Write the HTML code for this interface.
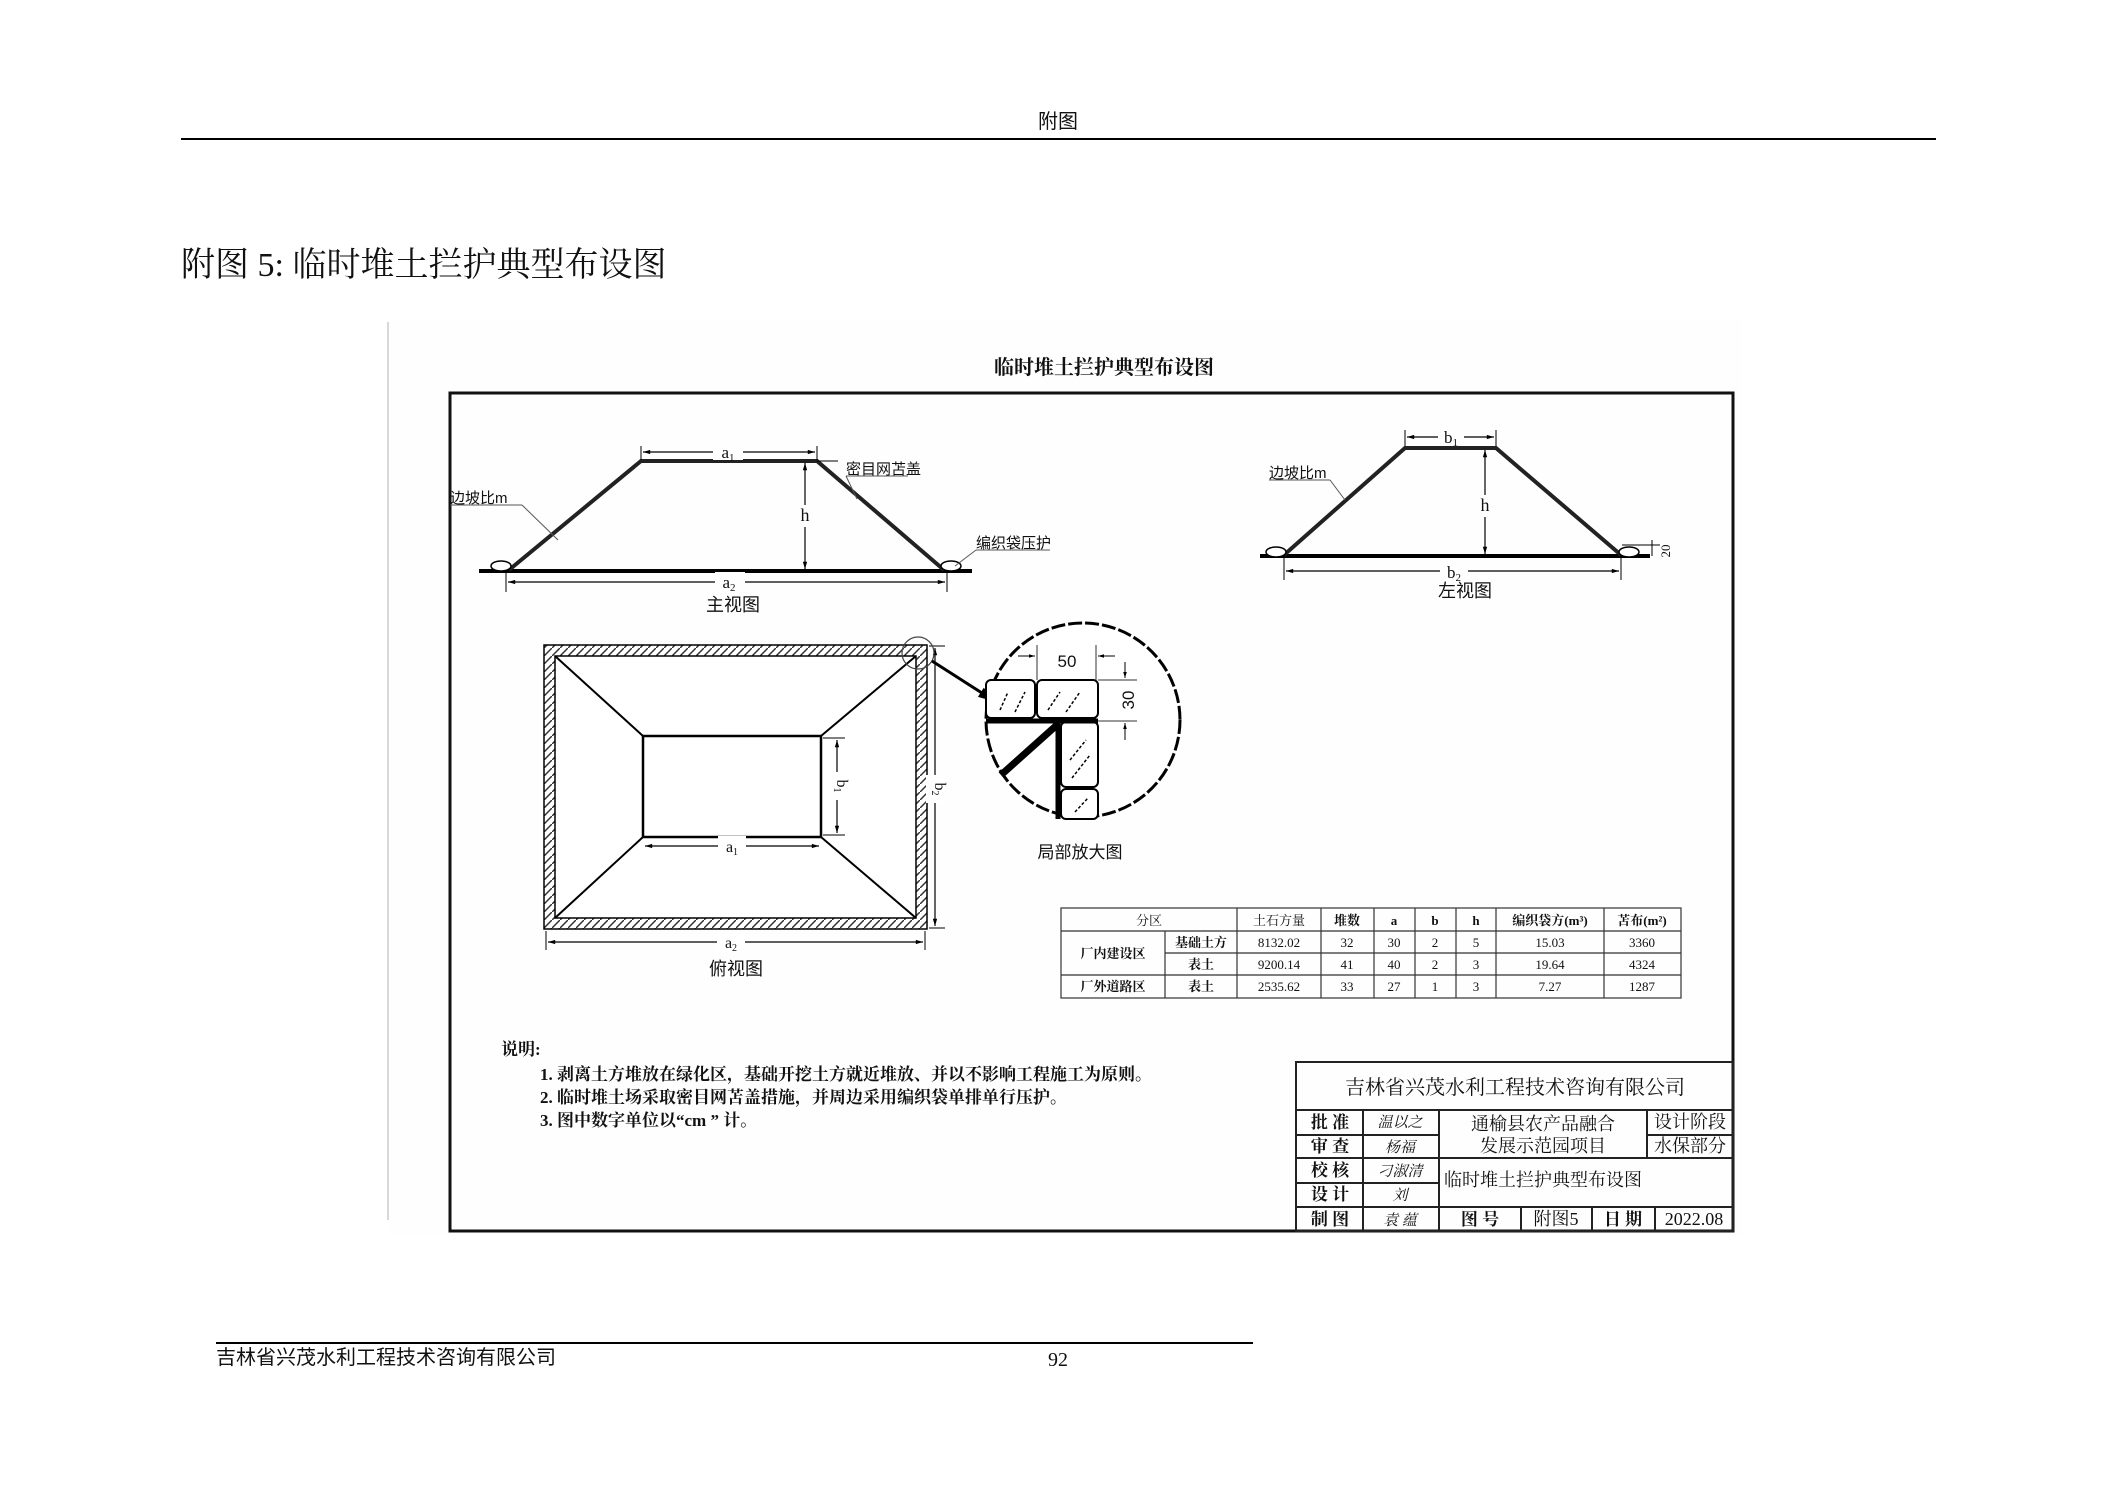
<!DOCTYPE html>
<html><head><meta charset="utf-8"><style>
html,body{margin:0;padding:0;background:#fff;}
body{width:2105px;height:1489px;position:relative;overflow:hidden;}
svg{position:absolute;left:0;top:0;}
text{font-family:"Liberation Serif","Noto Serif CJK SC","Noto Sans CJK SC",serif;fill:#111;}
.s{font-family:"Liberation Sans","Noto Sans CJK SC",sans-serif;}
</style></head><body>
<svg width="2105" height="1489" viewBox="0 0 2105 1489" xmlns="http://www.w3.org/2000/svg">
<defs>
<marker id="ar" viewBox="0 0 10 10" refX="10" refY="5" markerWidth="8" markerHeight="6" orient="auto-start-reverse"><path d="M0,2 L10,5 L0,8 z" fill="#000"/></marker>
<pattern id="hat" width="8" height="8" patternUnits="userSpaceOnUse"><rect width="8" height="8" fill="#fff"/><path d="M0,8 L8,0" stroke="#333" stroke-width="1.5"/></pattern>
</defs>
<text x="1058" y="128" font-size="20" text-anchor="middle" class="s">附图</text>
<line x1="181" y1="139" x2="1936" y2="139" stroke="#000" stroke-width="2"/>
<text x="181" y="276" font-size="34" font-family="Liberation Serif, Noto Serif CJK SC, serif">附图 5: 临时堆土拦护典型布设图</text>

<rect x="387" y="320" width="1355" height="915" fill="#fefefe"/>
<line x1="388" y1="322" x2="388" y2="1220" stroke="#ccc" stroke-width="1.5"/>
<text x="1104" y="374" font-size="20" font-weight="bold" text-anchor="middle">临时堆土拦护典型布设图</text>
<rect x="450" y="393" width="1283" height="838" fill="none" stroke="#111" stroke-width="3"/>

<line x1="479" y1="571" x2="972" y2="571" stroke="#000" stroke-width="4"/>
<polyline points="509,570 641,461 817,461 944,570" fill="none" stroke="#222" stroke-width="4"/>
<line x1="817" y1="461" x2="838" y2="461" stroke="#000" stroke-width="1"/>
<ellipse cx="501" cy="566" rx="10" ry="5" fill="#fff" stroke="#000" stroke-width="1.5"/>
<ellipse cx="951" cy="566" rx="10" ry="5" fill="#fff" stroke="#000" stroke-width="1.5"/>
<line x1="641" y1="446" x2="641" y2="460" stroke="#000"/><line x1="817" y1="446" x2="817" y2="460" stroke="#000"/>
<line x1="643" y1="452" x2="815" y2="452" stroke="#000" stroke-width="1.2" marker-start="url(#ar)" marker-end="url(#ar)"/>
<rect x="713" y="440" width="30" height="20" fill="#fefefe"/>
<text x="728" y="458" font-size="17" text-anchor="middle">a<tspan font-size="11" dy="3">1</tspan></text>
<line x1="805" y1="463" x2="805" y2="569" stroke="#000" stroke-width="1.2" marker-start="url(#ar)" marker-end="url(#ar)"/>
<rect x="795" y="505" width="20" height="22" fill="#fefefe"/>
<text x="805" y="521" font-size="18" text-anchor="middle">h</text>
<line x1="506" y1="572" x2="506" y2="592" stroke="#000"/><line x1="947" y1="572" x2="947" y2="592" stroke="#000"/>
<line x1="508" y1="582" x2="945" y2="582" stroke="#000" stroke-width="1.2" marker-start="url(#ar)" marker-end="url(#ar)"/>
<rect x="715" y="572" width="30" height="20" fill="#fefefe"/>
<text x="729" y="588" font-size="17" text-anchor="middle">a<tspan font-size="11" dy="3">2</tspan></text>
<text x="733" y="611" font-size="18" text-anchor="middle" class="s">主视图</text>
<text x="450" y="503" font-size="15" class="s">边坡比m</text>
<line x1="450" y1="505" x2="522" y2="505" stroke="#555"/><line x1="522" y1="505" x2="558" y2="540" stroke="#555"/>
<text x="846" y="474" font-size="15" class="s">密目网苫盖</text>
<line x1="846" y1="476" x2="908" y2="476" stroke="#555"/><line x1="846" y1="476" x2="857" y2="499" stroke="#555"/>
<text x="976" y="548" font-size="15" class="s">编织袋压护</text>
<line x1="976" y1="550" x2="1050" y2="550" stroke="#555"/><line x1="976" y1="550" x2="955" y2="566" stroke="#555"/>

<line x1="1260" y1="556" x2="1650" y2="556" stroke="#000" stroke-width="4"/>
<polyline points="1284,555 1405,448 1496,448 1621,555" fill="none" stroke="#222" stroke-width="4"/>
<ellipse cx="1276" cy="552" rx="10" ry="5" fill="#fff" stroke="#000" stroke-width="1.5"/>
<ellipse cx="1629" cy="552" rx="10" ry="5" fill="#fff" stroke="#000" stroke-width="1.5"/>
<line x1="1405" y1="430" x2="1405" y2="446" stroke="#000"/><line x1="1496" y1="430" x2="1496" y2="446" stroke="#000"/>
<line x1="1407" y1="437" x2="1494" y2="437" stroke="#000" stroke-width="1.2" marker-start="url(#ar)" marker-end="url(#ar)"/>
<rect x="1438" y="427" width="26" height="18" fill="#fefefe"/>
<text x="1451" y="443" font-size="17" text-anchor="middle">b<tspan font-size="11" dy="3">1</tspan></text>
<line x1="1485" y1="450" x2="1485" y2="554" stroke="#000" stroke-width="1.2" marker-start="url(#ar)" marker-end="url(#ar)"/>
<rect x="1475" y="495" width="20" height="22" fill="#fefefe"/>
<text x="1485" y="511" font-size="18" text-anchor="middle">h</text>
<line x1="1284" y1="558" x2="1284" y2="580" stroke="#000"/><line x1="1621" y1="558" x2="1621" y2="580" stroke="#000"/>
<line x1="1286" y1="571" x2="1619" y2="571" stroke="#000" stroke-width="1.2" marker-start="url(#ar)" marker-end="url(#ar)"/>
<rect x="1440" y="562" width="28" height="20" fill="#fefefe"/>
<text x="1454" y="578" font-size="17" text-anchor="middle">b<tspan font-size="11" dy="3">2</tspan></text>
<text x="1465" y="597" font-size="18" text-anchor="middle" class="s">左视图</text>
<text x="1269" y="478" font-size="15" class="s">边坡比m</text>
<line x1="1269" y1="480" x2="1330" y2="480" stroke="#555"/><line x1="1330" y1="480" x2="1345" y2="500" stroke="#555"/>
<line x1="1622" y1="545" x2="1660" y2="545" stroke="#000"/>
<line x1="1652" y1="540" x2="1652" y2="556" stroke="#000"/>
<text x="1670" y="551" font-size="13" text-anchor="middle" transform="rotate(-90 1670 551)">20</text>

<rect x="544" y="645" width="383" height="284" fill="url(#hat)" stroke="#000" stroke-width="1.5"/>
<rect x="555" y="656" width="361" height="262" fill="#fff" stroke="#000" stroke-width="1.5"/>
<rect x="643" y="736" width="178" height="101" fill="#fff" stroke="#000" stroke-width="2.5"/>
<line x1="555" y1="656" x2="643" y2="736" stroke="#000" stroke-width="2"/>
<line x1="916" y1="656" x2="821" y2="736" stroke="#000" stroke-width="2"/>
<line x1="555" y1="918" x2="643" y2="837" stroke="#000" stroke-width="2"/>
<line x1="916" y1="918" x2="821" y2="837" stroke="#000" stroke-width="2"/>
<line x1="823" y1="738" x2="845" y2="738" stroke="#000"/><line x1="823" y1="835" x2="845" y2="835" stroke="#000"/>
<line x1="837" y1="740" x2="837" y2="833" stroke="#000" stroke-width="1.2" marker-start="url(#ar)" marker-end="url(#ar)"/>
<rect x="828" y="772" width="18" height="28" fill="#fff"/>
<text x="837" y="786" font-size="16" text-anchor="middle" transform="rotate(90 837 786)">b<tspan font-size="10" dy="3">1</tspan></text>
<line x1="929" y1="646" x2="945" y2="646" stroke="#000"/><line x1="929" y1="928" x2="945" y2="928" stroke="#000"/>
<line x1="935" y1="648" x2="935" y2="926" stroke="#000" stroke-width="1.2" marker-start="url(#ar)" marker-end="url(#ar)"/>
<rect x="926" y="775" width="18" height="28" fill="#fff"/>
<text x="935" y="789" font-size="16" text-anchor="middle" transform="rotate(90 935 789)">b<tspan font-size="10" dy="3">2</tspan></text>
<line x1="645" y1="846" x2="819" y2="846" stroke="#000" stroke-width="1.2" marker-start="url(#ar)" marker-end="url(#ar)"/>
<rect x="718" y="836" width="28" height="20" fill="#fff"/>
<text x="732" y="852" font-size="16" text-anchor="middle">a<tspan font-size="10" dy="3">1</tspan></text>
<line x1="546" y1="931" x2="546" y2="950" stroke="#000"/><line x1="925" y1="931" x2="925" y2="950" stroke="#000"/>
<line x1="548" y1="942" x2="923" y2="942" stroke="#000" stroke-width="1.2" marker-start="url(#ar)" marker-end="url(#ar)"/>
<rect x="717" y="932" width="28" height="20" fill="#fff"/>
<text x="731" y="948" font-size="16" text-anchor="middle">a<tspan font-size="10" dy="3">2</tspan></text>
<text x="736" y="975" font-size="18" text-anchor="middle" class="s">俯视图</text>
<circle cx="918" cy="653" r="16" fill="none" stroke="#444" stroke-width="1.2"/>
<line x1="932" y1="661" x2="996" y2="702" stroke="#000" stroke-width="3" marker-end="url(#ar)"/>

<circle cx="1083" cy="720" r="97" fill="#fff" stroke="#000" stroke-width="3" stroke-dasharray="14 3"/>
<rect x="986" y="680" width="49" height="38" rx="5" fill="#fff" stroke="#000" stroke-width="2"/>
<rect x="1037" y="680" width="61" height="38" rx="5" fill="#fff" stroke="#000" stroke-width="2"/>
<rect x="1061" y="722" width="37" height="65" rx="5" fill="#fff" stroke="#000" stroke-width="2"/>
<rect x="1061" y="789" width="37" height="30" rx="5" fill="#fff" stroke="#000" stroke-width="2"/>
<g stroke="#000" stroke-width="1.5" stroke-dasharray="3 2">
<line x1="1000" y1="710" x2="1008" y2="692"/><line x1="1015" y1="712" x2="1025" y2="692"/>
<line x1="1048" y1="710" x2="1060" y2="692"/><line x1="1066" y1="712" x2="1080" y2="692"/>
<line x1="1070" y1="760" x2="1086" y2="740"/><line x1="1072" y1="778" x2="1090" y2="755"/>
<line x1="1075" y1="812" x2="1088" y2="798"/></g>
<line x1="986" y1="721" x2="1098" y2="721" stroke="#000" stroke-width="5"/>
<line x1="1058" y1="721" x2="1058" y2="819" stroke="#000" stroke-width="5"/>
<line x1="1058" y1="724" x2="1001" y2="775" stroke="#000" stroke-width="7"/>
<line x1="1037" y1="645" x2="1037" y2="680" stroke="#333"/><line x1="1096" y1="645" x2="1096" y2="680" stroke="#333"/>
<line x1="1018" y1="656" x2="1035" y2="656" stroke="#000" marker-end="url(#ar)"/>
<line x1="1115" y1="656" x2="1098" y2="656" stroke="#000" marker-end="url(#ar)"/>
<text x="1067" y="667" font-size="17" text-anchor="middle" class="s">50</text>
<line x1="1098" y1="680" x2="1137" y2="680" stroke="#333"/><line x1="1098" y1="721" x2="1137" y2="721" stroke="#333"/>
<line x1="1125" y1="662" x2="1125" y2="678" stroke="#000" marker-end="url(#ar)"/>
<line x1="1125" y1="740" x2="1125" y2="723" stroke="#000" marker-end="url(#ar)"/>
<text x="1134" y="700" font-size="17" text-anchor="middle" class="s" transform="rotate(-90 1134 700)">30</text>
<text x="1080" y="858" font-size="17" text-anchor="middle" class="s">局部放大图</text>

<g stroke="#333" stroke-width="1.2" fill="none">
<rect x="1061" y="908" width="620" height="90"/>
<line x1="1061" y1="931" x2="1681" y2="931"/>
<line x1="1165" y1="953" x2="1681" y2="953"/>
<line x1="1061" y1="975" x2="1681" y2="975"/>
<line x1="1165" y1="931" x2="1165" y2="998"/>
<line x1="1237" y1="908" x2="1237" y2="998"/><line x1="1321" y1="908" x2="1321" y2="998"/>
<line x1="1374" y1="908" x2="1374" y2="998"/><line x1="1415" y1="908" x2="1415" y2="998"/>
<line x1="1456" y1="908" x2="1456" y2="998"/><line x1="1496" y1="908" x2="1496" y2="998"/>
<line x1="1604" y1="908" x2="1604" y2="998"/>
</g>
<g font-size="13" text-anchor="middle">
<text x="1149" y="925">分区</text><text x="1279" y="925">土石方量</text><text x="1347" y="925" font-weight="bold">堆数</text>
<text x="1394" y="925" font-weight="bold">a</text><text x="1435" y="925" font-weight="bold">b</text><text x="1476" y="925" font-weight="bold">h</text>
<text x="1550" y="925" font-weight="bold">编织袋方(m³)</text><text x="1642" y="925" font-weight="bold">苫布(m²)</text>
<text x="1113" y="958" font-weight="bold">厂内建设区</text><text x="1201" y="947" font-weight="bold">基础土方</text><text x="1201" y="969" font-weight="bold">表土</text>
<text x="1279" y="947">8132.02</text><text x="1347" y="947">32</text><text x="1394" y="947">30</text><text x="1435" y="947">2</text><text x="1476" y="947">5</text><text x="1550" y="947">15.03</text><text x="1642" y="947">3360</text>
<text x="1279" y="969">9200.14</text><text x="1347" y="969">41</text><text x="1394" y="969">40</text><text x="1435" y="969">2</text><text x="1476" y="969">3</text><text x="1550" y="969">19.64</text><text x="1642" y="969">4324</text>
<text x="1113" y="991" font-weight="bold">厂外道路区</text><text x="1201" y="991" font-weight="bold">表土</text>
<text x="1279" y="991">2535.62</text><text x="1347" y="991">33</text><text x="1394" y="991">27</text><text x="1435" y="991">1</text><text x="1476" y="991">3</text><text x="1550" y="991">7.27</text><text x="1642" y="991">1287</text>
</g>

<g font-size="17" font-weight="bold">
<text x="501" y="1055">说明:</text>
<text x="540" y="1080">1. 剥离土方堆放在绿化区，基础开挖土方就近堆放、并以不影响工程施工为原则。</text>
<text x="540" y="1103">2. 临时堆土场采取密目网苫盖措施，并周边采用编织袋单排单行压护。</text>
<text x="540" y="1126">3. 图中数字单位以“cm ” 计。</text>
</g>

<g stroke="#222" stroke-width="2" fill="none">
<rect x="1296" y="1062" width="437" height="169"/>
<line x1="1296" y1="1110" x2="1733" y2="1110"/>
<line x1="1296" y1="1135" x2="1439" y2="1135"/>
<line x1="1296" y1="1158" x2="1733" y2="1158"/>
<line x1="1647" y1="1135" x2="1733" y2="1135"/>
<line x1="1296" y1="1183" x2="1439" y2="1183"/>
<line x1="1296" y1="1207" x2="1733" y2="1207"/>
<line x1="1363" y1="1110" x2="1363" y2="1231"/>
<line x1="1439" y1="1110" x2="1439" y2="1231"/>
<line x1="1647" y1="1110" x2="1647" y2="1158"/>
<line x1="1521" y1="1207" x2="1521" y2="1231"/>
<line x1="1592" y1="1207" x2="1592" y2="1231"/>
<line x1="1655" y1="1207" x2="1655" y2="1231"/>
</g>
<text x="1515" y="1094" font-size="20" text-anchor="middle">吉林省兴茂水利工程技术咨询有限公司</text>
<g font-size="17" font-weight="bold" text-anchor="middle">
<text x="1330" y="1128">批 准</text><text x="1330" y="1152">审 查</text><text x="1330" y="1176">校 核</text><text x="1330" y="1200">设 计</text><text x="1330" y="1225">制 图</text>
<text x="1480" y="1225">图 号</text><text x="1623" y="1225">日 期</text>
</g>
<g font-size="15" font-style="italic" text-anchor="middle" fill="#222">
<text x="1400" y="1127">温以之</text><text x="1400" y="1152">杨福</text><text x="1400" y="1176">刁淑清</text><text x="1400" y="1200">刘</text><text x="1400" y="1225">袁 蕴</text>
</g>
<g font-size="18" text-anchor="middle">
<text x="1543" y="1130">通榆县农产品融合</text><text x="1543" y="1152">发展示范园项目</text>
<text x="1690" y="1128">设计阶段</text><text x="1690" y="1152">水保部分</text>
<text x="1543" y="1186">临时堆土拦护典型布设图</text>
<text x="1556" y="1225">附图5</text><text x="1694" y="1225">2022.08</text>
</g>

<line x1="216" y1="1343" x2="1253" y2="1343" stroke="#000" stroke-width="2"/>
<text x="216" y="1364" font-size="20" class="s">吉林省兴茂水利工程技术咨询有限公司</text>
<text x="1058" y="1366" font-size="20" text-anchor="middle">92</text>
</svg>
</body></html>
